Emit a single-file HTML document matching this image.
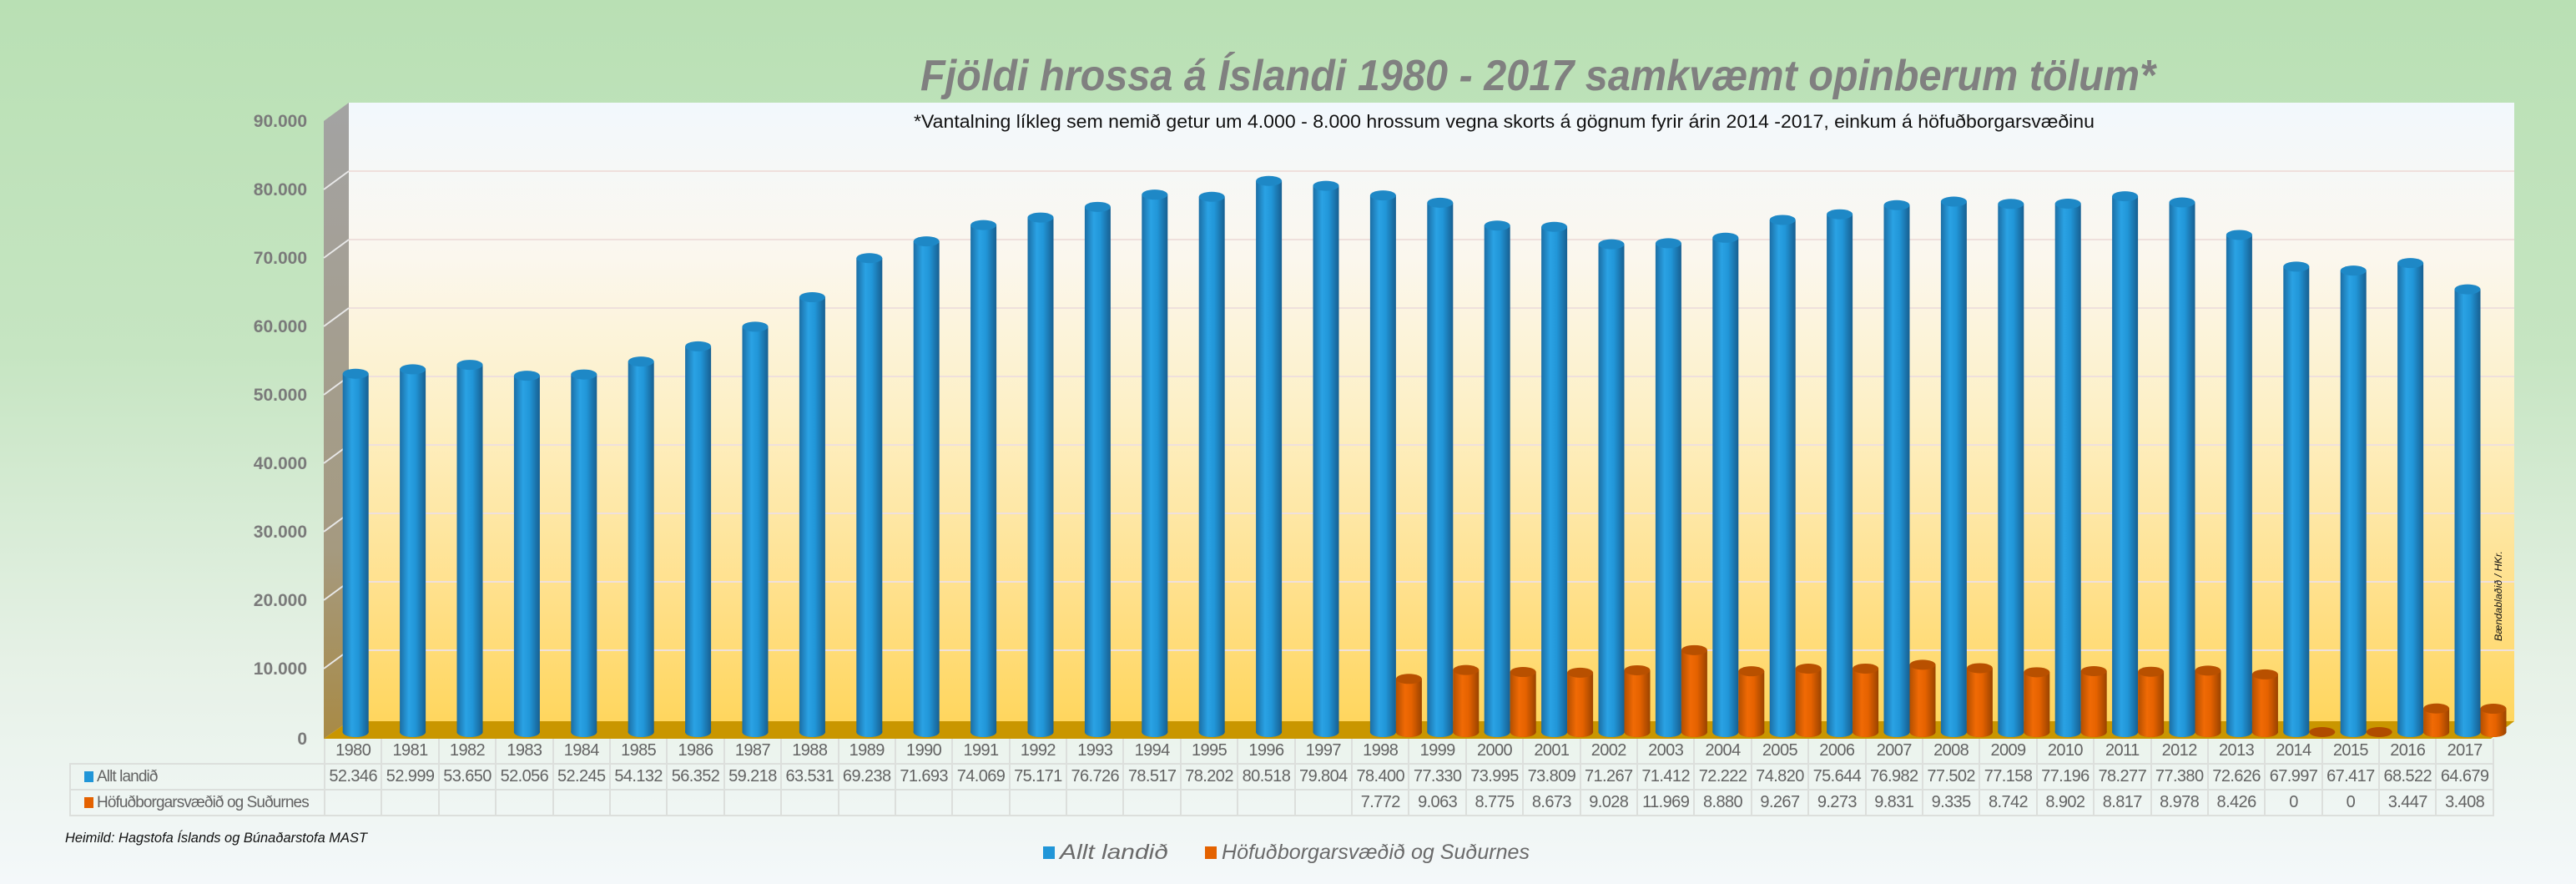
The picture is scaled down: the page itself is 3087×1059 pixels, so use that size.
<!DOCTYPE html>
<html><head><meta charset="utf-8"><style>
html,body{margin:0;padding:0}
body{width:3087px;height:1059px;overflow:hidden;background:linear-gradient(#b9e0b4 0%,#c6e5c2 40%,#e6f1e6 75%,#f4f8fa 100%);font-family:"Liberation Sans",sans-serif;position:relative}
svg{position:absolute;left:0;top:0}
table{position:absolute;left:83px;top:885px;border-collapse:collapse;table-layout:fixed;width:2904px;font-family:"Liberation Sans Narrow","Liberation Sans",sans-serif;color:#636363;font-size:20px}
td{border:2px solid #dcdfdc;height:29px;text-align:center;padding:0;white-space:nowrap;overflow:hidden;letter-spacing:-0.6px}
td.h{text-align:left;padding-left:16px;letter-spacing:-0.9px;font-size:19px}
tr.y td.e{border:none}
tr.y td{border-top:none}
.mk{display:inline-block;width:11px;height:13px;margin-right:4px;vertical-align:-1px}
</style></head><body>
<svg width="3087" height="1059" xmlns="http://www.w3.org/2000/svg">
<defs>
<linearGradient id="wall" x1="0" y1="0" x2="0" y2="1">
<stop offset="0" stop-color="#f2f8fd"/><stop offset="0.25" stop-color="#fbf7ee"/><stop offset="0.5" stop-color="#fdf0c6"/><stop offset="0.8" stop-color="#ffe08a"/><stop offset="1" stop-color="#ffd65e"/></linearGradient>
<linearGradient id="side" x1="0" y1="0" x2="0" y2="1"><stop offset="0" stop-color="#a3a3a3"/><stop offset="0.7" stop-color="#a59a80"/><stop offset="1" stop-color="#a88a45"/></linearGradient>
<linearGradient id="bl" x1="0" y1="0" x2="1" y2="0"><stop offset="0" stop-color="#1b6ea5"/><stop offset="0.35" stop-color="#2aa2e4"/><stop offset="0.6" stop-color="#2196d8"/><stop offset="1" stop-color="#175f91"/></linearGradient>
<linearGradient id="or" x1="0" y1="0" x2="1" y2="0"><stop offset="0" stop-color="#b34f00"/><stop offset="0.35" stop-color="#f06a05"/><stop offset="0.6" stop-color="#e56200"/><stop offset="1" stop-color="#9a4300"/></linearGradient>
</defs>
<rect x="418" y="123" width="2595" height="741" fill="url(#wall)"/>
<polygon points="388,145 418,123 418,864 388,885" fill="url(#side)"/>
<g stroke="#efe0dc" stroke-width="2">
<line x1="418" y1="205" x2="3013" y2="205"/><line x1="418" y1="287" x2="3013" y2="287"/><line x1="418" y1="369" x2="3013" y2="369"/><line x1="418" y1="451" x2="3013" y2="451"/><line x1="418" y1="533" x2="3013" y2="533"/><line x1="418" y1="615" x2="3013" y2="615"/><line x1="418" y1="697" x2="3013" y2="697"/><line x1="418" y1="779" x2="3013" y2="779"/>
</g>
<g stroke="#e8e8e8" stroke-width="2">
<line x1="388" y1="227" x2="418" y2="205"/><line x1="388" y1="309" x2="418" y2="287"/><line x1="388" y1="391" x2="418" y2="369"/><line x1="388" y1="473" x2="418" y2="451"/><line x1="388" y1="555" x2="418" y2="533"/><line x1="388" y1="637" x2="418" y2="615"/><line x1="388" y1="719" x2="418" y2="697"/><line x1="388" y1="801" x2="418" y2="779"/>
</g>
<polygon points="418,864 3013,864 2985,885 388,885" fill="#c99600"/>
<g id="bars"></g>
<g font-family="Liberation Sans Narrow, Liberation Sans, sans-serif" font-weight="bold" font-size="21" fill="#7a7a7a" text-anchor="end">
<text x="368" y="152">90.000</text><text x="368" y="234">80.000</text><text x="368" y="316">70.000</text><text x="368" y="398">60.000</text><text x="368" y="480">50.000</text><text x="368" y="562">40.000</text><text x="368" y="644">30.000</text><text x="368" y="726">20.000</text><text x="368" y="808">10.000</text><text x="368" y="892">0</text>
</g>
<text x="1103" y="108" font-family="Liberation Sans Narrow, Liberation Sans, sans-serif" font-weight="bold" font-style="italic" font-size="52" fill="#808080" textLength="1480" lengthAdjust="spacingAndGlyphs">Fjöldi hrossa á Íslandi  1980 - 2017 samkvæmt opinberum tölum*</text>
<text x="1095" y="153" font-family="Liberation Sans Narrow, Liberation Sans, sans-serif" font-size="22" fill="#111" textLength="1415" lengthAdjust="spacingAndGlyphs">*Vantalning líkleg sem nemið getur um 4.000 - 8.000 hrossum vegna skorts á gögnum fyrir árin 2014 -2017, einkum á höfuðborgarsvæðinu</text>
<text transform="translate(2998,768) rotate(-90)" font-family="Liberation Sans, sans-serif" font-style="italic" font-size="12" fill="#111" textLength="108" lengthAdjust="spacingAndGlyphs">Bændablaðið / HKr.</text>
<text x="78" y="1009" font-family="Liberation Sans Narrow, Liberation Sans, sans-serif" font-style="italic" font-size="17" fill="#111" textLength="362" lengthAdjust="spacingAndGlyphs">Heimild: Hagstofa Íslands og Búnaðarstofa MAST</text>
<rect x="1250" y="1014" width="14" height="15" fill="#2196d8"/>
<text x="1270" y="1029" font-family="Liberation Sans, sans-serif" font-style="italic" font-size="25" fill="#6a6a6a" textLength="130" lengthAdjust="spacingAndGlyphs">Allt landið</text>
<rect x="1444" y="1014" width="14" height="15" fill="#e46200"/>
<text x="1464" y="1029" font-family="Liberation Sans, sans-serif" font-style="italic" font-size="25" fill="#6a6a6a" textLength="369" lengthAdjust="spacingAndGlyphs">Höfuðborgarsvæðið og Suðurnes</text>
</svg>
<table>
<colgroup><col style="width:305px"><col span="38" style="width:68.4px"></colgroup>
<tr class="y"><td class="e"></td><td>1980</td><td>1981</td><td>1982</td><td>1983</td><td>1984</td><td>1985</td><td>1986</td><td>1987</td><td>1988</td><td>1989</td><td>1990</td><td>1991</td><td>1992</td><td>1993</td><td>1994</td><td>1995</td><td>1996</td><td>1997</td><td>1998</td><td>1999</td><td>2000</td><td>2001</td><td>2002</td><td>2003</td><td>2004</td><td>2005</td><td>2006</td><td>2007</td><td>2008</td><td>2009</td><td>2010</td><td>2011</td><td>2012</td><td>2013</td><td>2014</td><td>2015</td><td>2016</td><td>2017</td></tr>
<tr><td class="h"><span class="mk" style="background:#2196d8"></span>Allt landið</td><td>52.346</td><td>52.999</td><td>53.650</td><td>52.056</td><td>52.245</td><td>54.132</td><td>56.352</td><td>59.218</td><td>63.531</td><td>69.238</td><td>71.693</td><td>74.069</td><td>75.171</td><td>76.726</td><td>78.517</td><td>78.202</td><td>80.518</td><td>79.804</td><td>78.400</td><td>77.330</td><td>73.995</td><td>73.809</td><td>71.267</td><td>71.412</td><td>72.222</td><td>74.820</td><td>75.644</td><td>76.982</td><td>77.502</td><td>77.158</td><td>77.196</td><td>78.277</td><td>77.380</td><td>72.626</td><td>67.997</td><td>67.417</td><td>68.522</td><td>64.679</td></tr>
<tr><td class="h"><span class="mk" style="background:#e46200"></span>Höfuðborgarsvæðið og Suðurnes</td><td></td><td></td><td></td><td></td><td></td><td></td><td></td><td></td><td></td><td></td><td></td><td></td><td></td><td></td><td></td><td></td><td></td><td></td><td>7.772</td><td>9.063</td><td>8.775</td><td>8.673</td><td>9.028</td><td>11.969</td><td>8.880</td><td>9.267</td><td>9.273</td><td>9.831</td><td>9.335</td><td>8.742</td><td>8.902</td><td>8.817</td><td>8.978</td><td>8.426</td><td>0</td><td>0</td><td>3.447</td><td>3.408</td></tr>
</table>
<script>
var A=[52346,52999,53650,52056,52245,54132,56352,59218,63531,69238,71693,74069,75171,76726,78517,78202,80518,79804,78400,77330,73995,73809,71267,71412,72222,74820,75644,76982,77502,77158,77196,78277,77380,72626,67997,67417,68522,64679];
var H=[null,null,null,null,null,null,null,null,null,null,null,null,null,null,null,null,null,null,7772,9063,8775,8673,9028,11969,8880,9267,9273,9831,9335,8742,8902,8817,8978,8426,0,0,3447,3408];
var s='',base=877,k=0.0082;
function cyl(cx,w,v,g,top,dark){var x=cx-w/2,h=v*k,y=base-h;var r='';
r+='<ellipse cx="'+cx+'" cy="'+base+'" rx="'+w/2+'" ry="6" fill="'+dark+'"/>';
if(h>0){r+='<rect x="'+x+'" y="'+y+'" width="'+w+'" height="'+h+'" fill="url(#'+g+')"/>';
r+='<ellipse cx="'+cx+'" cy="'+base+'" rx="'+w/2+'" ry="6" fill="url(#'+g+')"/>';
r+='<ellipse cx="'+cx+'" cy="'+y+'" rx="'+w/2+'" ry="6" fill="'+top+'"/>';}
return r;}
for(var i=0;i<38;i++){var c=422.2+68.4*i;
s+=cyl(c+4,31,A[i],'bl','#1e88c6','#176ca0');
if(H[i]!==null)s+=cyl(c+35,31,H[i],'or','#b85000','#b04c00');}
document.getElementById('bars').innerHTML=s;
</script>
</body></html>
